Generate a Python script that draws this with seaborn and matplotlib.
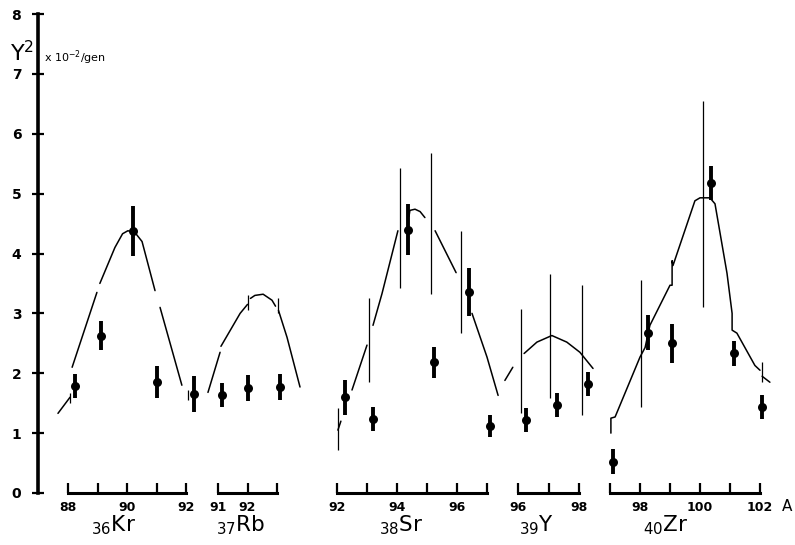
import numpy as np
import matplotlib
matplotlib.use("Agg")
import matplotlib.pyplot as plt
import seaborn as sns

nan = np.nan

# === Data ===
# measured yields with errors
kr_A = [88.24, 89.13, 90.2, 91.03, 92.27]
kr_val = [1.78, 2.63, 4.38, 1.85, 1.65]
kr_err = [0.2, 0.25, 0.42, 0.27, 0.3]

rb_A = [91.14, 92.02, 93.1]
rb_val = [1.63, 1.75, 1.77]
rb_err = [0.2, 0.22, 0.22]

sr_A = [92.27, 93.2, 94.37, 95.23, 96.4, 97.1]
sr_val = [1.6, 1.23, 4.4, 2.18, 3.35, 1.12]
sr_err = [0.29, 0.2, 0.42, 0.26, 0.4, 0.19]

y_A = [96.26, 97.28, 98.3]
y_val = [1.22, 1.47, 1.82]
y_err = [0.2, 0.2, 0.2]

zr_A = [97.1, 98.27, 99.07, 100.37, 101.13, 102.07]
zr_val = [0.52, 2.68, 2.5, 5.18, 2.33, 1.43]
zr_err = [0.21, 0.3, 0.33, 0.28, 0.21, 0.2]

# calculated curves (nan = break in the drawn line)
kr_curve_A = [87.66, 88.07, nan, 88.14, 88.98, nan, 89.08, 89.59, 89.85, 90.03,
              90.27, 90.51, 90.95, nan, 91.12, 91.86]
kr_curve_val = [1.33, 1.6, nan, 2.1, 3.35, nan, 3.5, 4.1, 4.33, 4.38,
                4.35, 4.2, 3.38, nan, 3.1, 1.8]

rb_curve_A = [90.66, 91.07, nan, 91.1, 91.75, 92.0, nan, 92.1, 92.25, 92.53,
              92.83, 92.95, nan, 93.05, 93.34, 93.78]
rb_curve_val = [1.68, 2.35, nan, 2.45, 3.0, 3.15, nan, 3.25, 3.3, 3.32,
                3.22, 3.12, nan, 3.05, 2.6, 1.77]

sr_curve_A = [92.03, 92.13, nan, 92.5, 93.0, nan, 93.2, 93.5, 94.03, nan,
              94.4, 94.43, 94.6, 94.77, 94.93, nan, 95.27, 95.6, 95.97, nan,
              96.5, 97.0, 97.37]
sr_curve_val = [1.05, 1.2, nan, 1.72, 2.47, nan, 2.8, 3.33, 4.38, nan,
                4.62, 4.72, 4.74, 4.7, 4.6, nan, 4.38, 4.05, 3.68, nan,
                3.0, 2.27, 1.63]

y_curve_A = [95.57, 95.83, nan, 96.2, 96.62, 97.11, 97.6, 98.03, 98.46]
y_curve_val = [1.88, 2.1, nan, 2.33, 2.52, 2.63, 2.52, 2.35, 2.08]

zr_curve_A = [97.03, 97.03, 97.17, 98.0, 98.17, 98.33, 99.0, 99.07, 99.07,
              99.1, 99.83, 100.0, 100.33, 100.5, 100.9, 101.07, 101.07,
              101.23, 101.83, 102.0, nan, 102.07, 102.33]
zr_curve_val = [1.0, 1.25, 1.27, 2.27, 2.43, 2.8, 3.47, 3.47, 3.88,
                3.8, 4.88, 4.93, 4.93, 4.83, 3.67, 3.0, 2.72,
                2.67, 2.13, 2.05, nan, 1.95, 1.85]

# thin vertical bars (A, low, high)
kr_bars_A = [88.07, 92.07]
kr_bars_lo = [1.5, 1.55]
kr_bars_hi = [1.67, 1.72]

rb_bars_A = [92.02, 93.02]
rb_bars_lo = [3.05, 3.0]
rb_bars_hi = [3.3, 3.25]

sr_bars_A = [92.03, 93.07, 94.1, 95.13, 96.13]
sr_bars_lo = [0.72, 1.85, 3.42, 3.33, 2.67]
sr_bars_hi = [1.42, 3.25, 5.43, 5.68, 4.38]

y_bars_A = [96.1, 97.05, 98.1]
y_bars_lo = [1.33, 1.58, 1.3]
y_bars_hi = [3.07, 3.65, 3.47]

zr_bars_A = [98.03, 100.1, 102.07]
zr_bars_lo = [1.43, 3.1, 1.85]
zr_bars_hi = [3.55, 6.55, 2.18]

# axis ticks per element
kr_ticks = [88, 89, 90, 91, 92]
kr_labels = ["88", "", "90", "", "92"]
rb_ticks = [91, 92, 93]
rb_labels = ["91", "92", ""]
sr_ticks = [92, 93, 94, 95, 96, 97]
sr_labels = ["92", "", "94", "", "96", ""]
y_ticks = [96, 97, 98]
y_labels = ["96", "", "98"]
zr_ticks = [97, 98, 99, 100, 101, 102]
zr_labels = ["", "98", "", "100", "", "102"]

# === Style ===
sns.set_style("white")
plt.rcParams["font.family"] = ["DejaVu Sans"]
plt.rcParams["mathtext.default"] = "regular"
plt.rcParams["text.color"] = "black"

W, H = 795, 545
fig = plt.figure(figsize=(W / 100, H / 100), dpi=100)

Y0_PX, Y8_PX = 493, 14
bottom = (H - Y0_PX) / H
height = (Y0_PX - Y8_PX) / H

# main axis with the Y scale
ax_main = fig.add_axes([38 / W, bottom, (790 - 38) / W, height])
ax_main.set_ylim(0, 8)
ax_main.set_xlim(0, 1)
ax_main.set_facecolor("none")
for s in ["top", "right", "bottom"]:
    ax_main.spines[s].set_visible(False)
ax_main.spines["left"].set_linewidth(2.6)
ax_main.spines["left"].set_color("black")
ax_main.set_xticks([])
ax_main.set_yticks(range(0, 9))
ax_main.tick_params(axis="y", left=True, direction="inout", length=8,
                    width=1.6, pad=8, labelsize=10, colors="black")
for lab in ax_main.get_yticklabels():
    lab.set_fontweight("bold")

fig.text(10 / W, 1 - 53 / H, "Y$^2$", fontsize=16, va="center", ha="left")
fig.text(44 / W, 1 - 58 / H, "x 10$^{-2}$/gen", fontsize=8, va="center", ha="left")

# panels: (A at reference tick, pixel of that tick, px per unit, xlim)
panels = [
    dict(A=kr_A, v=kr_val, e=kr_err, cA=kr_curve_A, cv=kr_curve_val,
         bA=kr_bars_A, blo=kr_bars_lo, bhi=kr_bars_hi,
         ticks=kr_ticks, labels=kr_labels, a0=88, p0=68, s=29.5,
         lim=(87.4, 92.6), name="$_{36}$Kr", nx=89.53),
    dict(A=rb_A, v=rb_val, e=rb_err, cA=rb_curve_A, cv=rb_curve_val,
         bA=rb_bars_A, blo=rb_bars_lo, bhi=rb_bars_hi,
         ticks=rb_ticks, labels=rb_labels, a0=91, p0=218, s=29.5,
         lim=(90.5, 93.9), name="$_{37}$Rb", nx=91.78),
    dict(A=sr_A, v=sr_val, e=sr_err, cA=sr_curve_A, cv=sr_curve_val,
         bA=sr_bars_A, blo=sr_bars_lo, bhi=sr_bars_hi,
         ticks=sr_ticks, labels=sr_labels, a0=92, p0=337, s=30,
         lim=(91.8, 97.5), name="$_{38}$Sr", nx=94.13),
    dict(A=y_A, v=y_val, e=y_err, cA=y_curve_A, cv=y_curve_val,
         bA=y_bars_A, blo=y_bars_lo, bhi=y_bars_hi,
         ticks=y_ticks, labels=y_labels, a0=96, p0=518, s=30.5,
         lim=(95.5, 98.6), name="$_{39}$Y", nx=96.6),
    dict(A=zr_A, v=zr_val, e=zr_err, cA=zr_curve_A, cv=zr_curve_val,
         bA=zr_bars_A, blo=zr_bars_lo, bhi=zr_bars_hi,
         ticks=zr_ticks, labels=zr_labels, a0=97, p0=610, s=30,
         lim=(96.85, 103.2), name="$_{40}$Zr", nx=98.87),
]

NAME_Y = (Y0_PX - 531) / 60.0   # baseline of the element names

for p in panels:
    lo, hi = p["lim"]
    left_px = p["p0"] + (lo - p["a0"]) * p["s"]
    width_px = (hi - lo) * p["s"]
    ax = fig.add_axes([left_px / W, bottom, width_px / W, height])
    ax.set_facecolor("none")
    ax.set_xlim(lo, hi)
    ax.set_ylim(0, 8)
    for s in ["top", "right", "left"]:
        ax.spines[s].set_visible(False)
    ax.spines["bottom"].set_bounds(p["ticks"][0], p["ticks"][-1])
    ax.spines["bottom"].set_linewidth(2.2)
    ax.spines["bottom"].set_color("black")
    ax.set_yticks([])
    ax.set_xticks(p["ticks"])
    ax.set_xticklabels(p["labels"])
    ax.tick_params(axis="x", bottom=True, direction="in", length=7, width=1.6,
                   pad=6, labelsize=9, colors="black")
    for lab in ax.get_xticklabels():
        lab.set_fontweight("bold")

    ax.plot(p["cA"], p["cv"], color="black", lw=1.1, clip_on=False)
    ax.vlines(p["bA"], p["blo"], p["bhi"], color="black", lw=0.9)
    ax.errorbar(p["A"], p["v"], yerr=p["e"], fmt="none", ecolor="black",
                elinewidth=2.8, capsize=0, zorder=3)
    sns.scatterplot(x=p["A"], y=p["v"], ax=ax, color="black", s=42,
                    edgecolor="black", linewidth=0, zorder=4, legend=False)
    ax.text(p["nx"], NAME_Y, p["name"], fontsize=15.5, ha="center",
            va="baseline", clip_on=False)
    ax.set_xlabel("")
    ax.set_ylabel("")
    if p["name"].endswith("Zr"):
        ax.text(102.9, -0.23, "A", fontsize=11, ha="center", va="center",
                clip_on=False)

fig.savefig("out.png", dpi=100)
